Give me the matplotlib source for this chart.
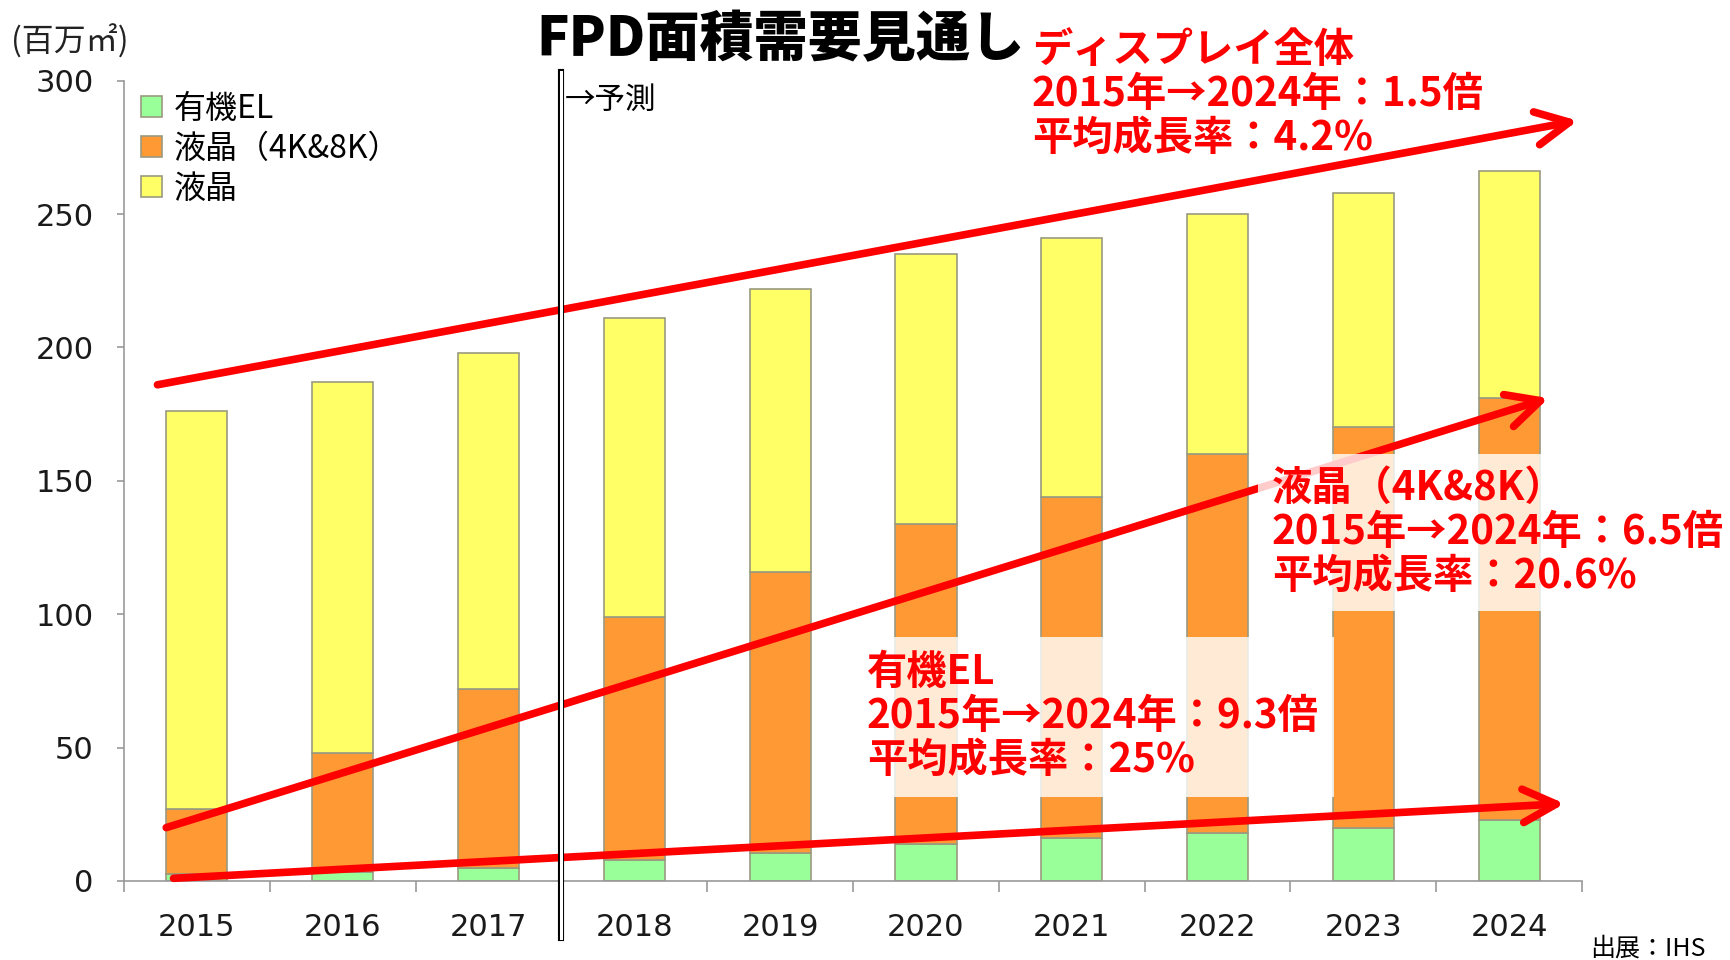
import numpy as np
from matplotlib import pyplot as plt

plt.rcParams['font.family'] = ['Noto Sans CJK JP', 'DejaVu Sans']

years = ['2015', '2016', '2017', '2018', '2019', '2020', '2021', '2022', '2023', '2024']
oled = [2.5, 3.5, 5, 8, 10.5, 14, 16, 18, 20, 23]
lcd_4k8k = [24.5, 44.5, 67, 91, 105.5, 120, 128, 142, 150, 158]
lcd = [149, 139, 126, 112, 106, 101, 97, 90, 88, 85]

labels = ['有機EL', '液晶（4K&8K）', '液晶']
colors = ['#99FF99', '#FF9933', '#FFFF66']

fig = plt.figure(figsize=(17.31, 9.6), dpi=100)
ax = fig.add_axes([0.0716, 0.0823, 0.8424, 0.8337])

x = np.arange(len(years))
w = 0.42
edge = '#9a9a80'
b1 = ax.bar(x, oled, w, color=colors[0], edgecolor=edge, linewidth=1.2, zorder=2)
b2 = ax.bar(x, lcd_4k8k, w, bottom=oled, color=colors[1], edgecolor=edge, linewidth=1.2, zorder=2)
bot = np.array(oled) + np.array(lcd_4k8k)
b3 = ax.bar(x, lcd, w, bottom=bot, color=colors[2], edgecolor=edge, linewidth=1.2, zorder=2)

ax.set_xlim(-0.5, 9.5)
ax.set_ylim(0, 300)
ax.set_yticks(range(0, 301, 50))
ax.set_xticks(x)
ax.set_xticklabels(years)
ax.set_xticks(np.arange(-0.5, 10, 1), minor=True)
ax.tick_params(axis='x', which='major', length=0, pad=23, labelsize=22, labelcolor='#1a1a1a')
ax.tick_params(axis='x', which='minor', length=8, width=1.2, color='#999999')
ax.tick_params(axis='y', length=5, width=1.2, color='#999999', pad=17, labelsize=22, labelcolor='#1a1a1a')
for lab in ax.get_xticklabels() + ax.get_yticklabels():
    lab.set_family('DejaVu Sans')
for s in ['top', 'right']:
    ax.spines[s].set_visible(False)
for s in ['left', 'bottom']:
    ax.spines[s].set_color('#999999')
    ax.spines[s].set_linewidth(1.2)

ax.legend([b1, b2, b3], labels, loc='upper left', bbox_to_anchor=(0.012, 0.985),
          frameon=False, fontsize=23, handlelength=0.65, handleheight=0.65,
          handletextpad=0.35, labelspacing=0.25, borderaxespad=0, borderpad=0)

# forecast divider (double line)
tr = ax.get_xaxis_transform()
ax.plot([2.5, 2.5], [-0.071, 1.011], color='black', lw=4.4, transform=tr, clip_on=False, zorder=5)
ax.plot([2.5, 2.5], [-0.071, 1.011], color='white', lw=2.2, transform=tr, clip_on=False, zorder=6)
ax.text(2.52, 0.975, '→予測', transform=tr, fontsize=22, va='center', ha='left')

# red trend arrows
arrows = [((-0.27, 186), (9.47, 285)),
          ((-0.21, 20), (9.27, 181)),
          ((-0.16, 1), (9.38, 29))]
for (x0, y0), (x1, y1) in arrows:
    ax.annotate('', xy=(x1, y1), xytext=(x0, y0),
                arrowprops=dict(arrowstyle='->,head_length=1.2,head_width=0.6', color='#FF0000',
                                lw=5.5, mutation_scale=20, shrinkA=0, shrinkB=0,
                                capstyle='round', joinstyle='round'),
                zorder=4, annotation_clip=False)

red_kw = dict(color='#FF0000', fontsize=29, fontweight='bold', linespacing=1.1, va='top', ha='left')
fig.text(1032 / 1731, 1 - 30 / 960, 'ディスプレイ全体\n2015年→2024年：1.5倍\n平均成長率：4.2%', **red_kw)
t2 = fig.text(1272 / 1731, 1 - 468 / 960, '液晶（4K&8K）\n2015年→2024年：6.5倍\n平均成長率：20.6%',
              bbox=dict(facecolor='white', alpha=0.8, edgecolor='none', pad=10), **red_kw)
t3 = fig.text(867 / 1731, 1 - 652 / 960, '有機EL\n2015年→2024年：9.3倍\n平均成長率：25%',
              bbox=dict(facecolor='white', alpha=0.8, edgecolor='none', pad=11), **red_kw)
t2.set_zorder(10)
t3.set_zorder(10)

fig.text(780 / 1731, 1 - 40 / 960, 'FPD面積需要見通し', fontsize=39, fontweight='heavy',
         ha='center', va='center', color='black')
fig.text(11 / 1731, 1 - 42 / 960, '(百万㎡)', fontsize=23, ha='left', va='center', color='#222222')
fig.text(1706 / 1731, 11 / 960, '出展：IHS', fontsize=18, ha='right', va='center', color='black')

fig.savefig('out.png', dpi=100)
